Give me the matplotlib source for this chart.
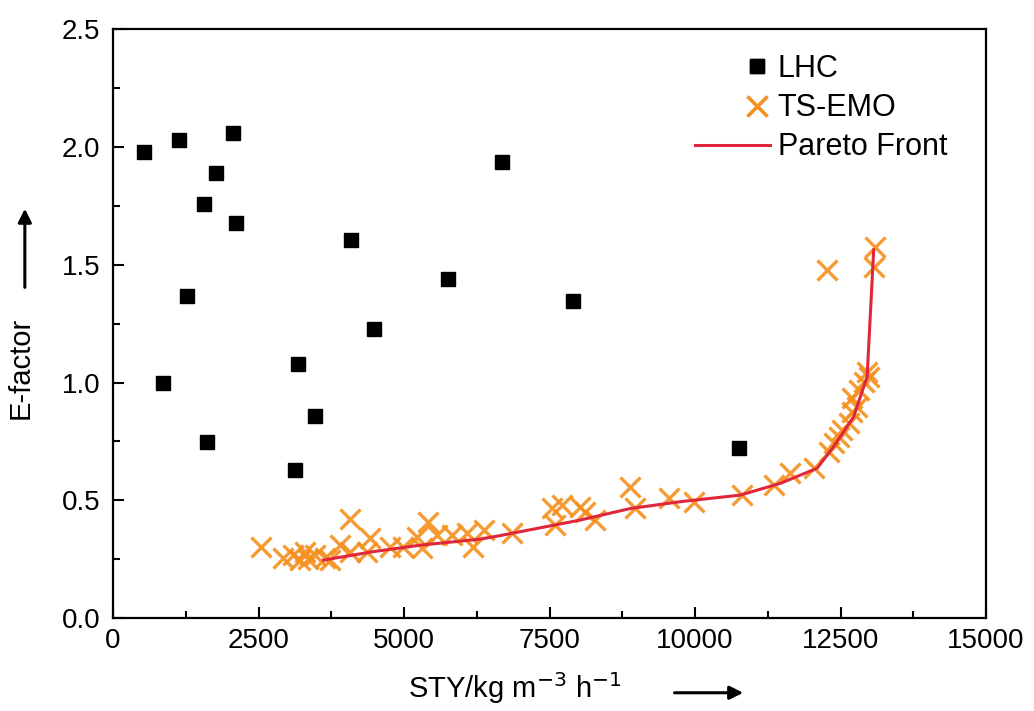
import matplotlib
matplotlib.use("Agg")
import numpy as np
import matplotlib.pyplot as plt
from matplotlib.ticker import MultipleLocator
from matplotlib.legend_handler import HandlerLine2D

plt.rcParams['font.family'] = ['Liberation Sans', 'DejaVu Sans']

# LHC samples
lhc_x = [528, 1129, 2068, 1776, 1564, 2115, 4086, 1267, 4487, 3180, 860, 3473,
         1611, 3124, 6682, 5764, 7896, 10761]
lhc_y = [1.978, 2.028, 2.059, 1.889, 1.757, 1.677, 1.607, 1.368, 1.228, 1.078,
         1.00, 0.859, 0.749, 0.629, 1.938, 1.439, 1.348, 0.721]

# TS-EMO samples
ts_x = [2539, 2928, 3094, 3301, 3473, 3645, 3215, 3352, 3730, 3902, 4074, 4074,
        4361, 4418, 4762, 4985, 5221, 5307, 5420, 5565, 5823, 6080, 6189, 6366,
        6854, 7541, 7598, 7714, 8028, 8114, 8286, 8888, 8974, 9546, 9976, 10808,
        11351, 11638, 12039, 12297, 12383, 12469, 12526, 12640, 12698, 12784,
        12698, 12812, 12898, 12984, 12957, 12269, 13099, 13070]
ts_y = [0.302, 0.254, 0.268, 0.282, 0.268, 0.255, 0.246, 0.251, 0.246, 0.310,
        0.419, 0.282, 0.282, 0.339, 0.303, 0.303, 0.345, 0.296, 0.409, 0.353,
        0.353, 0.360, 0.303, 0.374, 0.360, 0.466, 0.395, 0.480, 0.473, 0.452,
        0.416, 0.558, 0.466, 0.508, 0.494, 0.522, 0.565, 0.615, 0.636, 0.706,
        0.742, 0.770, 0.799, 0.827, 0.876, 0.898, 0.933, 0.969, 1.004, 1.025,
        1.046, 1.478, 1.577, 1.492]

# Pareto front
pf_x = [3616, 4475, 5300, 6309, 6653, 8028, 8888, 9747, 10779, 11467, 12097,
        12383, 12726, 12957, 13070]
pf_y = [0.246, 0.282, 0.31, 0.335, 0.350, 0.416, 0.465, 0.494, 0.522, 0.572,
        0.636, 0.728, 0.855, 1.025, 1.563]

x_ticks = [0, 2500, 5000, 7500, 10000, 12500, 15000]
y_ticks = [0.0, 0.5, 1.0, 1.5, 2.0, 2.5]


class RightMarkerHandler(HandlerLine2D):
    """Origin-style legend: marker sits toward the right of the handle."""
    def get_xdata(self, legend, xdescent, ydescent, width, height, fontsize):
        xm = -xdescent + 0.83 * width
        return np.array([xm, xm]), np.array([xm, xm])


fig = plt.figure(figsize=(10.34, 7.11), dpi=100)
ax = fig.add_axes([0.1093, 0.1308, 0.8443, 0.8279])

h_lhc, = ax.plot(lhc_x, lhc_y, linestyle='none', marker='s', ms=10.5,
                 color='black', label='LHC', zorder=3)
h_ts, = ax.plot(ts_x, ts_y, linestyle='none', marker='x', ms=14, mew=2.4,
                color='#f5901e', alpha=0.9, label='TS-EMO', zorder=2)
h_pf, = ax.plot(pf_x, pf_y, color='#e0263a', lw=2.2, label='Pareto Front',
                zorder=4)

ax.set_xlim(0, 15000)
ax.set_ylim(0, 2.5)
ax.set_xticks(x_ticks)
ax.set_yticks(y_ticks)
ax.set_xticklabels([str(v) for v in x_ticks])
ax.set_yticklabels([f"{v:.1f}" for v in y_ticks])
ax.xaxis.set_minor_locator(MultipleLocator(1250))
ax.yaxis.set_minor_locator(MultipleLocator(0.25))
ax.tick_params(which='major', direction='in', length=8, width=1.5,
               labelsize=20)
ax.tick_params(axis='x', which='major', pad=7)
ax.tick_params(axis='y', which='major', pad=9)
ax.tick_params(which='minor', direction='in', length=5, width=1.5)
for s in ax.spines.values():
    s.set_linewidth(1.6)

ax.set_xlabel(r'STY/kg m$^{-3}$ h$^{-1}$', fontsize=21)
ax.set_ylabel('E-factor', fontsize=21)
ax.yaxis.set_label_coords(-0.09, 0.425)
ax.xaxis.set_label_coords(0.46, -0.088)

# axis arrows
ax.annotate('', xy=(0.725, -0.127), xytext=(0.640, -0.127),
            xycoords='axes fraction',
            arrowprops=dict(arrowstyle='-|>', color='black', lw=2.2,
                            mutation_scale=20), annotation_clip=False)
ax.annotate('', xy=(-0.101, 0.70), xytext=(-0.101, 0.557),
            xycoords='axes fraction',
            arrowprops=dict(arrowstyle='-|>', color='black', lw=2.2,
                            mutation_scale=20), annotation_clip=False)

hm = RightMarkerHandler(numpoints=2)
leg = ax.legend(handles=[h_lhc, h_ts, h_pf], loc='upper left',
                bbox_to_anchor=(0.6667, 0.958), frameon=False,
                fontsize=22, handlelength=2.45, handletextpad=0.25,
                labelspacing=0.3, borderaxespad=0, borderpad=0,
                handler_map={h_lhc: hm, h_ts: hm})

fig.savefig('out.png', dpi=100)
